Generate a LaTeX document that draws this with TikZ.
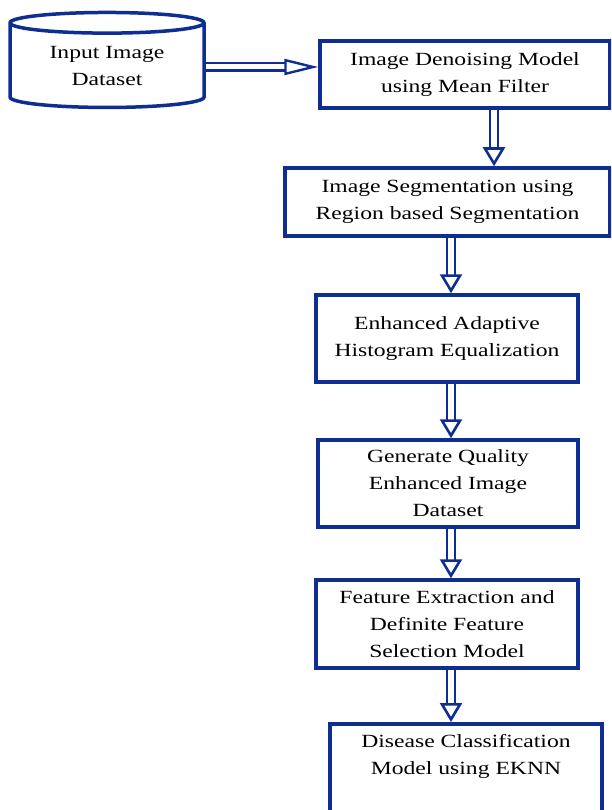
\documentclass[tikz,border=0pt]{standalone}
\usepackage{fontspec}
\setmainfont{Liberation Serif}[FakeStretch=1.27]
\usetikzlibrary{shapes.geometric,arrows.meta}
\definecolor{flowblue}{RGB}{14,46,145}

\begin{document}
\begin{tikzpicture}[x=1pt,y=-1pt,
    stage/.style={draw=flowblue,line width=3.5pt,fill=white,align=center,
      font=\fontsize{18.6}{27}\selectfont,inner sep=0pt},
    store/.style={cylinder,shape border rotate=90,aspect=0.18,draw=flowblue,
      line width=3.5pt,fill=white,align=center,font=\fontsize{18.6}{27}\selectfont,
      inner sep=0pt,minimum width=194pt,minimum height=95pt},
    hpipe/.style={draw=flowblue,line width=2.2pt,double=white,double distance=5pt,
      -{Triangle[open,length=34pt,width=16pt,fill=white,line width=2.4pt]}},
    vpipe/.style={draw=flowblue,line width=2.4pt,double=white,double distance=6pt,
      -{Triangle[open,length=19pt,width=22pt,fill=white,line width=2.6pt]}}]
  \useasboundingbox (0,0) rectangle (611,810);
  \clip (0,0) rectangle (611,810);
  \node [store] (data) at (107,66) {Input Image\\Dataset};
  \node [stage,minimum width=290pt,minimum height=67pt] (denoise) at (465,74.5)
    {Image Denoising Model\\using Mean Filter};
  \node [stage,minimum width=325pt,minimum height=68pt] (segment) at (447.5,202)
    {Image Segmentation using\\Region based Segmentation};
  \node [stage,minimum width=262pt,minimum height=87pt] (enhance) at (447,338.5)
    {Enhanced Adaptive\\Histogram Equalization};
  \node [stage,minimum width=260pt,minimum height=87pt] (generate) at (448,483.5)
    {Generate Quality\\Enhanced Image\\Dataset};
  \node [stage,minimum width=262pt,minimum height=88pt] (feature) at (447,624)
    {Feature Extraction and\\Definite Feature\\Selection Model};
  \node [stage,minimum width=272pt,minimum height=130pt,anchor=north] (classify) at (466,722) {};
  \node [align=center,font=\fontsize{18.6}{27}\selectfont] (classifytext) at ([yshift=-34pt]classify.north)
    {Disease Classification\\Model using EKNN};
  \draw [hpipe] ([yshift=-1pt]data.east) -- ([yshift=-1pt]data.east -| denoise.west);
  \draw [vpipe] ([xshift=29pt]denoise.south) -- ([xshift=29pt]denoise.south |- segment.north);
  \draw [vpipe] ([xshift=3.5pt]segment.south) -- ([xshift=3.5pt]segment.south |- enhance.north);
  \draw [vpipe] ([xshift=4pt]enhance.south) -- ([xshift=4pt]enhance.south |- generate.north);
  \draw [vpipe] ([xshift=3pt]generate.south) -- ([xshift=3pt]generate.south |- feature.north);
  \draw [vpipe] ([xshift=4pt]feature.south) -- ([xshift=4pt]feature.south |- classify.north);
\end{tikzpicture}
\end{document}
